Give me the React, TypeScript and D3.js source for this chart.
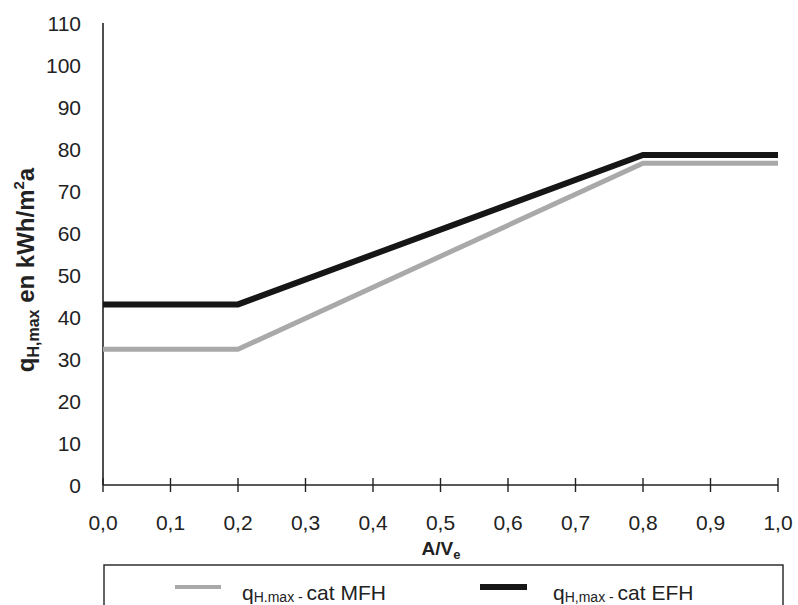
import React from "react";
import * as d3 from "d3";

const xTicks = [0, 0.1, 0.2, 0.3, 0.4, 0.5, 0.6, 0.7, 0.8, 0.9, 1.0];
const yTicks = [0, 10, 20, 30, 40, 50, 60, 70, 80, 90, 100, 110];
const xValues = [0, 0.2, 0.8, 1.0];
const mfhValues = [32.3, 32.3, 76.6, 76.6];
const efhValues = [43.0, 43.0, 78.6, 78.6];

export default function App() {
  const W = 798, H = 605;
  const x = d3.scaleLinear().domain([0, 1]).range([103, 778]);
  const y = d3.scaleLinear().domain([0, 110]).range([485, 23]);
  const line = d3
    .line<number>()
    .x((_, i) => x(xValues[i]))
    .y((d) => y(d));
  const font = "'Liberation Sans', Arial, sans-serif";
  const fmt = (v: number) => v.toFixed(1).replace(".", ",");
  return (
    <svg
      width={W}
      height={H}
      style={{ position: "absolute", left: 0, top: 0, background: "#fff" }}
      fontFamily={font}
    >
      <rect x={0} y={0} width={W} height={H} fill="#fff" />
      {/* y axis */}
      <line x1={x(0)} x2={x(0)} y1={y(110)} y2={y(0)} stroke="#222" strokeWidth={1.6} />
      {yTicks.map((t) => (
        <text key={t} x={81} y={y(t)} dy="0.36em" textAnchor="end" fontSize={21} fill="#222">
          {t}
        </text>
      ))}
      {/* x axis */}
      <line x1={x(0)} x2={x(1)} y1={y(0)} y2={y(0)} stroke="#222" strokeWidth={1.6} />
      {xTicks.map((t) => (
        <g key={t}>
          <line x1={x(t)} x2={x(t)} y1={y(0) - 7} y2={y(0) + 7} stroke="#222" strokeWidth={1.4} />
          <text x={x(t)} y={522} dy="0.36em" textAnchor="middle" fontSize={21} fill="#222">
            {fmt(t)}
          </text>
        </g>
      ))}
      <text x={441} y={548} dy="0.36em" textAnchor="middle" fontSize={19} fontWeight="bold" fill="#222">
        A/V<tspan fontSize={13} dy="4">e</tspan>
      </text>
      {/* y label */}
      <text
        transform={`translate(34,${270}) rotate(-90)`}
        textAnchor="middle"
        fontSize={24}
        fontWeight="bold"
        fill="#222"
      >
        q<tspan fontSize={16} dy="5">H,max</tspan>
        <tspan dy="-5"> en kWh/m</tspan>
        <tspan fontSize={15} dy="-10">2</tspan>
        <tspan dy="10">a</tspan>
      </text>
      {/* lines */}
      <path d={line(mfhValues) || ""} fill="none" stroke="#a9a9a9" strokeWidth={5} strokeLinejoin="miter" />
      <path d={line(efhValues) || ""} fill="none" stroke="#161616" strokeWidth={6} strokeLinejoin="miter" />
      {/* legend */}
      <rect x={104} y={565} width={679} height={60} fill="none" stroke="#222" strokeWidth={1.4} />
      <line x1={175} x2={221} y1={587} y2={587} stroke="#a9a9a9" strokeWidth={4} />
      <text x={242} y={600} fontSize={21} fill="#222">
        q<tspan fontSize={14} dy="2">H.max - </tspan>
        <tspan dy="-2">cat MFH</tspan>
      </text>
      <line x1={480} x2={527} y1={587} y2={587} stroke="#161616" strokeWidth={6} />
      <text x={553} y={600} fontSize={21} fill="#222">
        q<tspan fontSize={14} dy="2">H,max - </tspan>
        <tspan dy="-2">cat EFH</tspan>
      </text>
    </svg>
  );
}
